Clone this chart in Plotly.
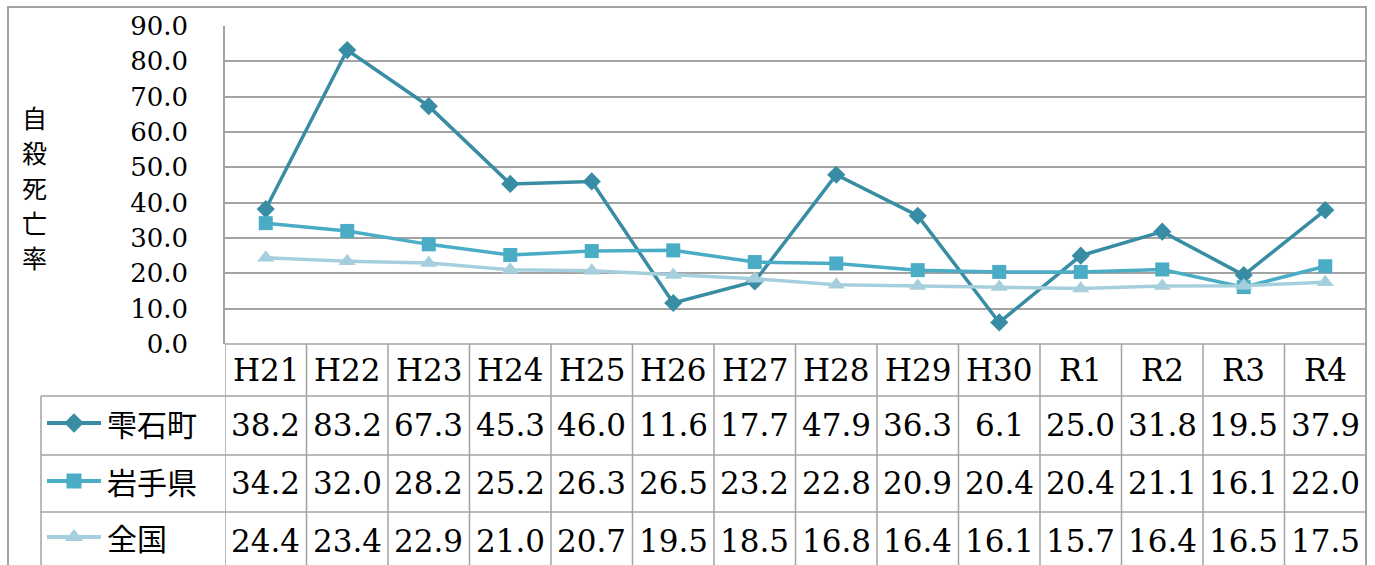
import plotly.graph_objects as go

# 年度ごとの自殺死亡率（人口10万対）
years = ["H21", "H22", "H23", "H24", "H25", "H26", "H27",
         "H28", "H29", "H30", "R1", "R2", "R3", "R4"]
shizukuishi = [38.2, 83.2, 67.3, 45.3, 46.0, 11.6, 17.7,
               47.9, 36.3, 6.1, 25.0, 31.8, 19.5, 37.9]
iwate = [34.2, 32.0, 28.2, 25.2, 26.3, 26.5, 23.2,
         22.8, 20.9, 20.4, 20.4, 21.1, 16.1, 22.0]
zenkoku = [24.4, 23.4, 22.9, 21.0, 20.7, 19.5, 18.5,
           16.8, 16.4, 16.1, 15.7, 16.4, 16.5, 17.5]

series_names = ["雫石町", "岩手県", "全国"]
series_values = [shizukuishi, iwate, zenkoku]
y_title = "自殺死亡率"

W, H = 1375, 565
colors = ["#388CA3", "#4BACC6", "#A6CFDD"]
symbols = ["diamond", "square", "triangle-up"]
msizes = [14, 14, 15]
GRID = "#A3A3A3"
NUM_FONT = "DejaVu Serif"
JP_FONT = "Noto Sans CJK JP"


def px(x):
    return x / W


def py(y):
    return 1 - y / H


plot_left, plot_right = 225, 1366
plot_top, plot_bottom = 26, 344
row_edges = [344, 396, 455, 512, 575]
row_text_y = [425, 483, 541]     # 各データ行の文字の中心
label_text_y = [423, 481, 537]   # 系列名の中心
legend_left = 41

fig = go.Figure()

for name, vals, c, s, ms in zip(series_names, series_values, colors, symbols, msizes):
    fig.add_trace(go.Scatter(
        x=list(range(len(years))), y=vals, name=name, mode="lines+markers",
        line=dict(color=c, width=3.5),
        marker=dict(symbol=s, size=ms, color=c),
        xaxis="x", yaxis="y", showlegend=False, cliponaxis=False,
    ))

# 凡例キー（表の左列に線とマーカー）: 画面全体を覆う補助軸に描画
for i, (c, s, ms) in enumerate(zip(colors, symbols, msizes)):
    yc = label_text_y[i]
    fig.add_trace(go.Scatter(
        x=[47, 101], y=[yc, yc], mode="lines",
        line=dict(color=c, width=4),
        xaxis="x2", yaxis="y2", showlegend=False, hoverinfo="skip",
    ))
    fig.add_trace(go.Scatter(
        x=[74], y=[yc], mode="markers",
        marker=dict(symbol=s, size=ms + 1, color=c),
        xaxis="x2", yaxis="y2", showlegend=False, hoverinfo="skip",
    ))

shapes = []
# 外枠
shapes.append(dict(type="rect", xref="paper", yref="paper", layer="below",
                   x0=px(8), x1=px(plot_right), y0=py(600), y1=py(7),
                   line=dict(color=GRID, width=2)))
# 表の縦線
for k in range(len(years) + 1):
    shapes.append(dict(type="line", xref="x", yref="paper", layer="below",
                       x0=k - 0.5, x1=k - 0.5, y0=py(plot_bottom), y1=py(600),
                       line=dict(color=GRID, width=1.5)))
shapes.append(dict(type="line", xref="paper", yref="paper", layer="below",
                   x0=px(legend_left), x1=px(legend_left),
                   y0=py(row_edges[1]), y1=py(600),
                   line=dict(color=GRID, width=1.5)))
# 表の横線
shapes.append(dict(type="line", xref="paper", yref="paper", layer="below",
                   x0=px(plot_left), x1=px(plot_right),
                   y0=py(plot_bottom), y1=py(plot_bottom),
                   line=dict(color=GRID, width=1.5)))
for ye in row_edges[1:4]:
    shapes.append(dict(type="line", xref="paper", yref="paper", layer="below",
                       x0=px(legend_left), x1=px(plot_right), y0=py(ye), y1=py(ye),
                       line=dict(color=GRID, width=1.5)))

annotations = []
# 見出し行（年度）
hy = (row_edges[0] + row_edges[1]) / 2
for i, yr in enumerate(years):
    annotations.append(dict(x=i, y=py(hy), xref="x", yref="paper", text=yr,
                            showarrow=False, xanchor="center", yanchor="middle",
                            font=dict(family=NUM_FONT, size=31, color="black")))
# 数値行
for r, (name, vals) in enumerate(zip(series_names, series_values)):
    for i, v in enumerate(vals):
        annotations.append(dict(x=i, y=py(row_text_y[r]), xref="x", yref="paper",
                                text=f"{v:.1f}", showarrow=False,
                                xanchor="center", yanchor="middle",
                                font=dict(family=NUM_FONT, size=31, color="black")))
    annotations.append(dict(x=px(105), y=py(label_text_y[r]), xref="paper",
                            yref="paper", text=name, showarrow=False,
                            xanchor="left", yanchor="middle",
                            font=dict(family=JP_FONT, size=30, color="black")))
# 縦書きの軸タイトル（1文字ずつ積む）
for j, ch in enumerate(y_title):
    annotations.append(dict(x=px(34), y=py(117 + 35 * j), xref="paper", yref="paper",
                            text=ch, showarrow=False,
                            xanchor="center", yanchor="middle",
                            font=dict(family=JP_FONT, size=25, color="black")))

fig.update_layout(
    width=W, height=H,
    margin=dict(l=0, r=0, t=0, b=0, pad=0, autoexpand=False),
    paper_bgcolor="white", plot_bgcolor="rgba(0,0,0,0)",
    xaxis=dict(domain=[px(plot_left), px(plot_right)], range=[-0.5, len(years) - 0.5],
               showticklabels=False, showgrid=False, zeroline=False,
               showline=False, fixedrange=True, automargin=False),
    yaxis=dict(domain=[py(plot_bottom), py(plot_top)], range=[0, 90], dtick=10,
               tickformat=".1f", showgrid=True, gridcolor=GRID, gridwidth=1.5,
               zeroline=False, showline=True, linecolor=GRID, linewidth=1.5,
               ticks="", ticklabelstandoff=30, automargin=False,
               tickfont=dict(family=NUM_FONT, size=26, color="black")),
    xaxis2=dict(domain=[0, 1], range=[0, W], visible=False, fixedrange=True,
                anchor="y2", automargin=False),
    yaxis2=dict(domain=[0, 1], range=[H, 0], visible=False, anchor="x2",
                fixedrange=True, automargin=False),
    shapes=shapes,
    annotations=annotations,
    showlegend=False,
)

fig.write_html("out.html")
